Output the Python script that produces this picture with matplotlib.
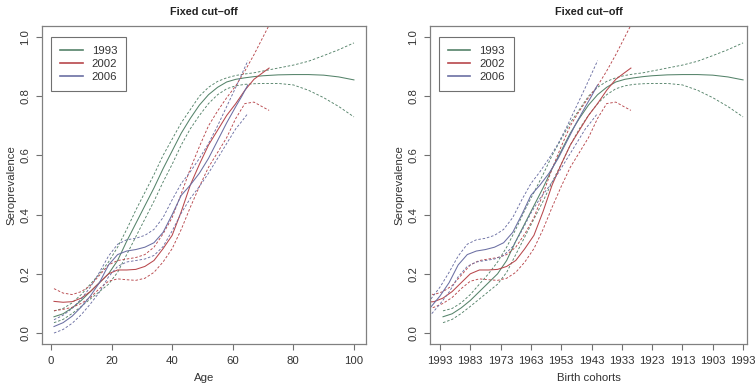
import matplotlib
matplotlib.use("Agg")
import matplotlib.pyplot as plt

plt.rcParams['font.family'] = ['Liberation Sans', 'DejaVu Sans']

age_93 = [1, 4, 7, 10, 13, 16, 19, 22, 25, 28, 31, 34, 37, 40, 43, 46, 49, 52, 55, 58,
          61, 64, 67, 70, 75, 80, 85, 90, 95, 100]
age_02 = [1, 4, 7, 10, 13, 16, 19, 22, 25, 28, 31, 34, 37, 40, 43, 46, 49, 52, 55, 58,
          61, 64, 67, 70, 72]
age_06 = [1, 4, 7, 10, 13, 16, 19, 22, 25, 28, 31, 34, 37, 40, 43, 46, 49, 52, 55, 58,
          61, 63, 65]

# survey 1993
fit_93 = [0.055, 0.065, 0.085, 0.11, 0.14, 0.17, 0.20, 0.245, 0.31, 0.37, 0.43, 0.49,
          0.555, 0.615, 0.675, 0.725, 0.77, 0.805, 0.83, 0.848, 0.857, 0.862, 0.866,
          0.869, 0.872, 0.873, 0.873, 0.871, 0.865, 0.855]
up_93 = [0.075, 0.083, 0.102, 0.13, 0.165, 0.20, 0.24, 0.29, 0.35, 0.415, 0.475, 0.535,
         0.60, 0.655, 0.71, 0.755, 0.80, 0.83, 0.85, 0.862, 0.87, 0.875, 0.879, 0.885,
         0.895, 0.905, 0.918, 0.937, 0.957, 0.98]
lo_93 = [0.035, 0.046, 0.066, 0.09, 0.115, 0.14, 0.165, 0.205, 0.265, 0.325, 0.385,
         0.445, 0.51, 0.57, 0.635, 0.69, 0.735, 0.775, 0.805, 0.825, 0.835, 0.84, 0.842,
         0.843, 0.843, 0.838, 0.82, 0.795, 0.765, 0.73]

# survey 2002
fit_02 = [0.107, 0.104, 0.106, 0.118, 0.14, 0.17, 0.20, 0.213, 0.213, 0.215, 0.225,
          0.245, 0.285, 0.33, 0.41, 0.50, 0.57, 0.635, 0.685, 0.735, 0.775, 0.82, 0.857,
          0.88, 0.895]
up_02 = [0.15, 0.135, 0.13, 0.14, 0.16, 0.195, 0.23, 0.245, 0.25, 0.255, 0.265, 0.29,
         0.335, 0.39, 0.47, 0.555, 0.63, 0.70, 0.75, 0.795, 0.835, 0.885, 0.94, 1.0, 1.04]
lo_02 = [0.075, 0.08, 0.087, 0.10, 0.12, 0.15, 0.175, 0.183, 0.18, 0.178, 0.185, 0.205,
         0.24, 0.285, 0.35, 0.425, 0.495, 0.56, 0.61, 0.66, 0.725, 0.775, 0.78, 0.763,
         0.752]

# survey 2006
fit_06 = [0.022, 0.035, 0.057, 0.088, 0.125, 0.17, 0.23, 0.265, 0.277, 0.282, 0.29,
          0.305, 0.34, 0.40, 0.465, 0.50, 0.54, 0.59, 0.65, 0.71, 0.765, 0.80, 0.838]
up_06 = [0.045, 0.06, 0.083, 0.115, 0.155, 0.205, 0.26, 0.30, 0.315, 0.32, 0.33, 0.35,
         0.39, 0.45, 0.505, 0.545, 0.59, 0.64, 0.70, 0.765, 0.83, 0.875, 0.92]
lo_06 = [0.0, 0.012, 0.033, 0.062, 0.098, 0.138, 0.19, 0.225, 0.24, 0.245, 0.25, 0.262,
         0.292, 0.345, 0.405, 0.455, 0.495, 0.54, 0.59, 0.64, 0.69, 0.715, 0.742]

years = ['1993', '2002', '2006']
colors = ['#55836a', '#b8474c', '#6b6fa3']
# shift of each survey on the birth-cohort axis (survey year - 1993)
shifts = [0, 9, 13]
cohort_ticks = list(range(0, 101, 10))
cohort_labels = ['1993', '1983', '1973', '1963', '1953', '1943', '1933', '1923', '1913',
                 '1903', '1993']

series = [(age_93, fit_93, up_93, lo_93),
          (age_02, fit_02, up_02, lo_02),
          (age_06, fit_06, up_06, lo_06)]

fig = plt.figure(figsize=(7.55, 3.87), dpi=100)
ax1 = fig.add_axes([0.0556, 0.1111, 0.4291, 0.8217])
ax2 = fig.add_axes([0.5695, 0.1111, 0.4199, 0.8217])

dash = (0, (2.8, 2.0))
for ax, use_shift in [(ax1, False), (ax2, True)]:
    for (ages, fit, up, lo), col, sh, yr in zip(series, colors, shifts, years):
        x = [a - sh for a in ages] if use_shift else ages
        ax.plot(x, fit, color=col, lw=0.75, label=yr)
        ax.plot(x, up, color=col, lw=0.65, ls=dash)
        ax.plot(x, lo, color=col, lw=0.65, ls=dash)

    ax.set_ylim(-0.037, 1.037)
    ax.set_yticks([0.0, 0.2, 0.4, 0.6, 0.8, 1.0])
    ax.set_yticklabels(['0.0', '0.2', '0.4', '0.6', '0.8', '1.0'])
    ax.tick_params(axis='y', labelrotation=90)
    for lab in ax.get_yticklabels():
        lab.set_va('center')
    ax.tick_params(length=4.5, width=0.8, color='#707070', labelsize=8.2,
                   labelcolor='#333333', pad=4)
    for s in ax.spines.values():
        s.set_color('#808080')
        s.set_linewidth(0.9)
    ax.set_ylabel('Seroprevalence', fontsize=8.2, color='#333333', labelpad=3)
    ax.set_title('Fixed cut\u2013off', fontsize=7.8, fontweight='bold',
                 color='#222222', pad=8)
    leg = ax.legend(loc='upper left', bbox_to_anchor=(0.027, 0.965), borderaxespad=0,
                    fancybox=False, framealpha=1, edgecolor='#707070', fontsize=8.2,
                    handlelength=2.0, handletextpad=0.8, labelspacing=0.25,
                    borderpad=0.8)
    leg.get_frame().set_linewidth(0.8)
    for t in leg.get_texts():
        t.set_color('#333333')
    for h in leg.get_lines():
        h.set_linewidth(1.2)

ax1.set_xlim(-2.96, 103.96)
ax1.set_xticks([0, 20, 40, 60, 80, 100])
ax1.set_xlabel('Age', fontsize=8.2, color='#333333', labelpad=5)

ax2.set_xlim(-3.3, 101.3)
ax2.set_xticks(cohort_ticks)
ax2.set_xticklabels(cohort_labels)
ax2.set_xlabel('Birth cohorts', fontsize=8.2, color='#333333', labelpad=5)

fig.savefig('out.png', dpi=100)
